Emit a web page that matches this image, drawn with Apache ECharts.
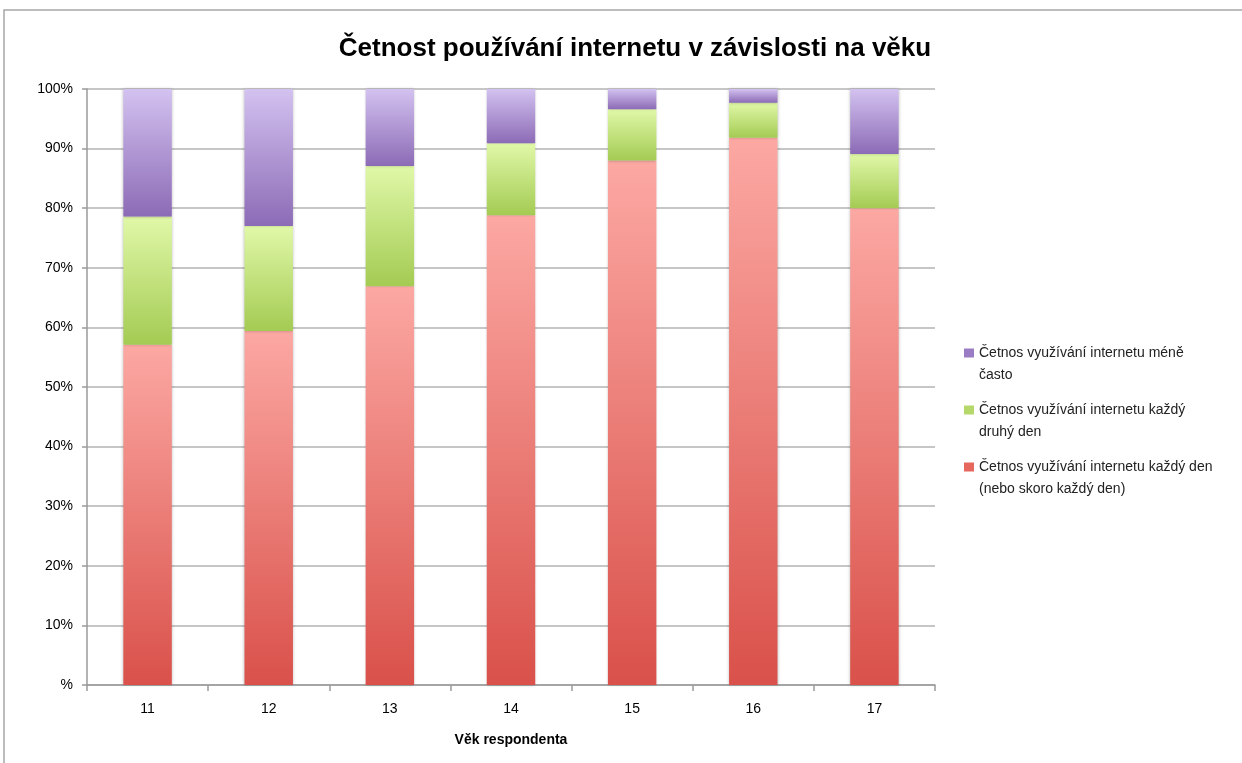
<!DOCTYPE html>
<html>
<head>
<meta charset="utf-8" />
<title>Četnost používání internetu</title>
<script src="https://cdn.jsdelivr.net/npm/echarts@6/dist/echarts.min.js"></script>
<style>
  html, body { margin: 0; padding: 0; background: #fff; }
  #main { width: 1242px; height: 763px; }
</style>
</head>
<body>
<div id="main"></div>
<script type="text/javascript">
// věk respondenta
var ages = ['11', '12', '13', '14', '15', '16', '17'];
// podíly v %
var dailyVals = [57.1, 59.4, 66.9, 78.8, 88.0, 91.8, 80.0];
var everyOtherVals = [21.5, 17.6, 20.2, 12.1, 8.6, 5.9, 9.1];
var lessVals = [21.4, 23.0, 12.9, 9.1, 3.4, 2.3, 10.9];

var nameDaily = 'Četnos využívání internetu každý den (nebo skoro každý den)';
var nameOther = 'Četnos využívání internetu každý druhý den';
var nameLess = 'Četnos využívání internetu méně často';

// zalomení textu legendy (prázdný první řádek srovná ikonu s prvním řádkem)
var legendLines = {};
legendLines[nameLess] = '\nČetnos využívání internetu méně\nčasto';
legendLines[nameOther] = '\nČetnos využívání internetu každý\ndruhý den';
legendLines[nameDaily] = '\nČetnos využívání internetu každý den\n(nebo skoro každý den)';

var font = '"Liberation Sans", "Open Sans", sans-serif';

function grad(top, bottom) {
    return new echarts.graphic.LinearGradient(0, 0, 0, 1, [
        { offset: 0, color: top },
        { offset: 1, color: bottom }
    ]);
}

function barSeries(name, data, c1, c2) {
    return {
        name: name,
        type: 'bar',
        stack: 'total',
        barWidth: '40%',
        data: data,
        itemStyle: {
            color: grad(c1, c2),
            shadowBlur: 3,
            shadowColor: 'rgba(0,0,0,0.25)'
        }
    };
}

function legendFor(name, top, color) {
    return {
        orient: 'vertical',
        left: 959,
        top: top,
        data: [{ name: name, itemStyle: { color: color } }],
        icon: 'rect',
        itemWidth: 10,
        itemHeight: 9,
        itemGap: 0,
        selectedMode: false,
        formatter: function (n) { return legendLines[n]; },
        textStyle: {
            fontFamily: font,
            fontSize: 14,
            color: '#222',
            lineHeight: 22
        }
    };
}

var myChart = echarts.init(document.getElementById('main'));

var option = {
    backgroundColor: '#fff',
    animation: false,
    title: {
        text: 'Četnost používání internetu v závislosti na věku',
        left: 630,
        textAlign: 'center',
        top: 31,
        textStyle: {
            fontFamily: font,
            fontSize: 26,
            fontWeight: 'bold',
            color: '#000'
        }
    },
    graphic: [{
        type: 'polyline',
        shape: { points: [[4, 763], [4, 10], [1242, 10]] },
        style: { stroke: '#a6a6a6', lineWidth: 1.5, fill: null }
    }],
    legend: [
        legendFor(nameLess, 315, '#9a7cc4'),
        legendFor(nameOther, 372, '#b6d86a'),
        legendFor(nameDaily, 429, '#e5675e')
    ],
    grid: {
        left: 87,
        right: 307,
        top: 89,
        bottom: 78
    },
    xAxis: {
        type: 'category',
        data: ages,
        name: 'Věk respondenta',
        nameLocation: 'middle',
        nameGap: 48,
        nameTextStyle: {
            fontFamily: font,
            fontSize: 14,
            fontWeight: 'bold',
            color: '#000'
        },
        axisLine: { lineStyle: { color: '#9a9a9a', width: 1.5 } },
        axisTick: { show: true, length: 6, alignWithLabel: false, lineStyle: { color: '#9a9a9a', width: 1.5 } },
        axisLabel: {
            fontFamily: font,
            fontSize: 14,
            color: '#000',
            margin: 17
        }
    },
    yAxis: {
        type: 'value',
        min: 0,
        max: 100,
        interval: 10,
        axisLine: { show: true, lineStyle: { color: '#9a9a9a', width: 1.5 } },
        axisTick: { show: true, length: 5, lineStyle: { color: '#9a9a9a', width: 1.5 } },
        splitLine: { lineStyle: { color: '#b3b3b3', width: 1.5 } },
        axisLabel: {
            fontFamily: font,
            fontSize: 14,
            color: '#000',
            margin: 14,
            formatter: function (v) { return v === 0 ? '%' : v + '%'; }
        }
    },
    series: [
        barSeries(nameDaily, dailyVals, '#fca8a3', '#d9514a'),
        barSeries(nameOther, everyOtherVals, '#e0f8a8', '#a4cb53'),
        barSeries(nameLess, lessVals, '#d3c2f0', '#8c6bb6')
    ]
};

myChart.setOption(option);
</script>
</body>
</html>
